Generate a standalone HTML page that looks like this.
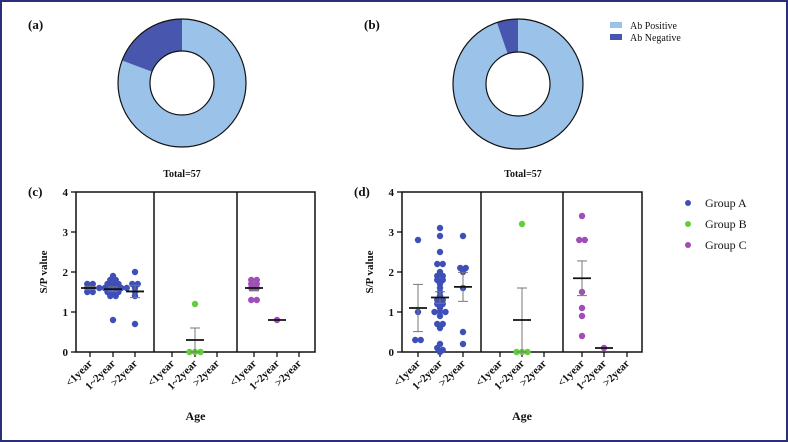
<!DOCTYPE html>
<html><head><meta charset="utf-8">
<style>
html,body{margin:0;padding:0;background:#fff;}
#frame{position:relative;width:788px;height:442px;box-sizing:border-box;border:2px solid #2b2f78;background:#fff;overflow:hidden;}
svg{position:absolute;left:-2px;top:-2px;}
text{font-family:"Liberation Serif",serif;fill:#111;}
</style></head>
<body>
<div id="frame">
<svg id="fig" width="788" height="442" xmlns="http://www.w3.org/2000/svg"></svg>
</div>
<script>
// ---- Pie data ----
const pieLabels = ["Ab Positive","Ab Negative"];
const pieA = [46, 11];
const pieB = [54, 3];
const pieColors = ["#9bc2e8","#4857ad"];
// ---- Scatter data ----
const groups = ["Group A","Group B","Group C"];
const ageCats = ["<1year","1~2year",">2year"];
const groupColors = ["#3e50b8","#62cf3a","#a04db8"];
const yTicks = [0,1,2,3,4];
// panel (c)
const cA = [[1.6,1.6,1.5,1.5,1.7,1.7],[1.9,1.8,1.8,1.7,1.7,1.7,1.6,1.6,1.6,1.6,1.6,1.6,1.5,1.5,1.5,1.4,1.4,0.8],[2.0,1.7,1.7,1.6,1.5,1.4,0.7]];
const cB = [[],[1.2,0,0,0],[]];
const cC = [[1.8,1.8,1.7,1.7,1.6,1.6,1.3,1.3],[0.8],[]];
// panel (d)
const dA = [[2.8,1.0,0.3,0.3],[3.1,2.9,2.5,2.2,2.2,2.0,1.9,1.9,1.8,1.8,1.7,1.6,1.5,1.4,1.3,1.3,1.2,1.2,1.1,1.0,1.0,1.0,0.9,0.7,0.7,0.6,0.2,0.1,0.05,0.0],[2.9,2.1,2.1,2.0,1.6,0.5,0.2]];
const dB = [[],[3.2,0,0,0],[]];
const dC = [[3.4,2.8,2.8,1.5,1.1,0.9,0.4],[0.1],[]];

const NS="http://www.w3.org/2000/svg";
const svg=document.getElementById('fig');
function el(tag,attrs,parent){const e=document.createElementNS(NS,tag);for(const k in attrs)e.setAttribute(k,attrs[k]);(parent||svg).appendChild(e);return e;}
function txt(s,attrs,parent){const e=el('text',attrs,parent);e.textContent=s;return e;}

function donut(cx,cy,R,r,vals,name){
  const g=el('g',{});
  
  
  const tot=vals.reduce((a,b)=>a+b,0);
  let a0=0;
  vals.forEach((v,i)=>{
    const a1=a0+v/tot*2*Math.PI;
    const p=(a)=>[cx+Math.sin(a)*R,cy-Math.cos(a)*R];
    const q=(a)=>[cx+Math.sin(a)*r,cy-Math.cos(a)*r];
    const large=(a1-a0)>Math.PI?1:0;
    const [x0,y0]=p(a0),[x1,y1]=p(a1),[u1,w1]=q(a1),[u0,w0]=q(a0);
    const path=el('path',{d:`M${x0},${y0}A${R},${R} 0 ${large} 1 ${x1},${y1}L${u1},${w1}A${r},${r} 0 ${large} 0 ${u0},${w0}Z`,fill:pieColors[i],stroke:'none'},g);
    
    
    a0=a1;
  });
  el('circle',{cx,cy,r:R,fill:'none',stroke:'#111','stroke-width':1.2},g);
  el('circle',{cx,cy,r,fill:'#fff',stroke:'#111','stroke-width':1.2},g);
}
donut(182,83,64,32,pieA,'donut-a');
donut(518,84,65,32,pieB,'donut-b');
let t;
t=txt('(a)',{x:28,y:29,'font-size':13,'font-weight':'bold'});
t=txt('(b)',{x:364,y:29,'font-size':13,'font-weight':'bold'});
t=txt('Total=57',{x:182,y:177,'font-size':10,'font-weight':'bold','text-anchor':'middle'});
t=txt('Total=57',{x:523,y:177,'font-size':10,'font-weight':'bold','text-anchor':'middle'});
pieLabels.forEach((l,i)=>{
  const r=el('rect',{x:610,y:22+i*12,width:12,height:6,fill:pieColors[i]});
  
  
  const tt=txt(l,{x:630,y:29+i*12,'font-size':10});
  
  
});

function panel(left,divs,right,catX,data,labelStr,name){
  const top=192,bot=352,ymax=4;
  const y=v=>bot-(v/ymax)*(bot-top);
  const g=el('g',{});
  
  
  el('rect',{x:left,y:top,width:right-left,height:bot-top,fill:'none',stroke:'#111','stroke-width':1.5},g);
  divs.forEach(d=>el('line',{x1:d,y1:top,x2:d,y2:bot,stroke:'#111','stroke-width':1.5},g));
  yTicks.forEach(v=>{
    el('line',{x1:left-5,x2:left,y1:y(v),y2:y(v),stroke:'#111','stroke-width':1.3},g);
    const tk=txt(String(v),{x:left-8,y:y(v)+4,'font-size':11,'font-weight':'bold','text-anchor':'end'},g);
    
    
  });
  const yt=txt('S/P value',{x:0,y:0,'font-size':11,'font-weight':'bold','text-anchor':'middle',transform:`translate(${left-29},${(top+bot)/2}) rotate(-90)`},g);
  
  
  const pl=txt(labelStr,{x:left-48,y:top+4,'font-size':13,'font-weight':'bold'},g);
  
  
  data.forEach((grp,gi)=>{
    grp.forEach((vals,ci)=>{
      const cx=catX[gi*3+ci];
      el('line',{x1:cx,x2:cx,y1:bot,y2:bot+5,stroke:'#111','stroke-width':1.3},g);
      const lb=txt(ageCats[ci],{x:0,y:0,'font-size':11,'font-weight':'bold','text-anchor':'end',transform:`translate(${cx+3},${bot+12}) rotate(-45)`},g);
      
      
      if(!vals.length)return;
      const bins={};
      const offs=vals.map(v=>{const k=Math.round(v*10);bins[k]=(bins[k]||0)+1;return bins[k]-1;});
      const counts={};vals.forEach(v=>{const k=Math.round(v*10);counts[k]=(counts[k]||0)+1;});
      vals.forEach((v,i)=>{
        const k=Math.round(v*10),n=counts[k];
        const dx=(offs[i]-(n-1)/2)*5.5;
        const c=el('circle',{cx:cx+dx,cy:y(v),r:3.2,fill:groupColors[gi]},g);
        
        
      });
      const n=vals.length,m=vals.reduce((a,b)=>a+b,0)/n;
      let sem=0;
      if(n>1){const sd=Math.sqrt(vals.reduce((a,b)=>a+(b-m)*(b-m),0)/(n-1));sem=sd/Math.sqrt(n);}
      if(sem>0){
        el('line',{x1:cx,x2:cx,y1:y(m+sem),y2:y(m-sem),stroke:'#777','stroke-width':1},g);
        el('line',{x1:cx-5,x2:cx+5,y1:y(m+sem),y2:y(m+sem),stroke:'#777','stroke-width':1},g);
        el('line',{x1:cx-5,x2:cx+5,y1:y(m-sem),y2:y(m-sem),stroke:'#777','stroke-width':1},g);
      }
      const ml=el('line',{x1:cx-9,x2:cx+9,y1:y(m),y2:y(m),stroke:'#111','stroke-width':1.8},g);
      
      
    });
  });
  const ax=txt('Age',{x:(left+right)/2,y:420,'font-size':12,'font-weight':'bold','text-anchor':'middle'},g);
  
  
}
panel(76,[154,237],315,[90,113,135,172,195,217,254,277,299],[cA,cB,cC],'(c)','scatter-panel-c');
panel(402,[481,563],642,[418,440,463,500,522,544,582,604,627],[dA,dB,dC],'(d)','scatter-panel-d');
groups.forEach((gname,i)=>{
  const c=el('circle',{cx:688,cy:203+i*21,r:3,fill:groupColors[i]});
  
  
  const tt=txt(gname,{x:705,y:207+i*21,'font-size':12});
  
  
});
</script>
</body></html>
